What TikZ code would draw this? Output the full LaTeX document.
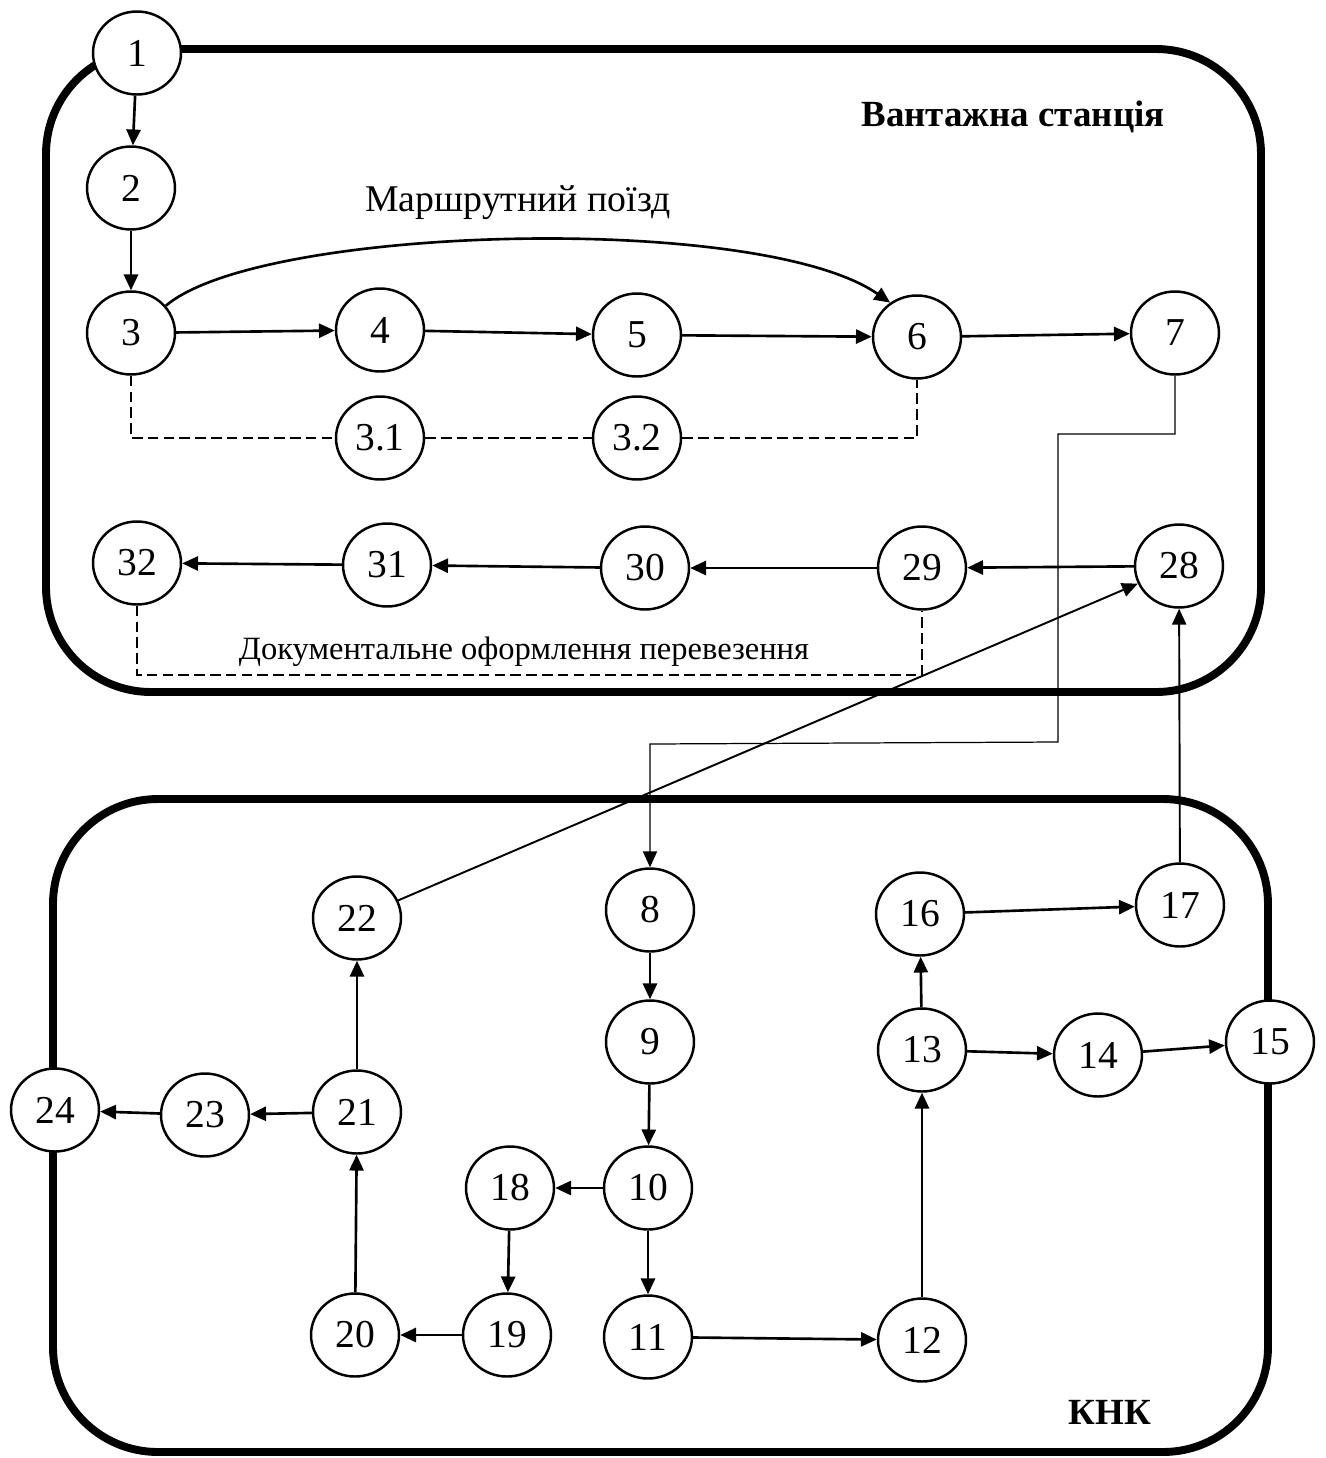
\documentclass[tikz,border=0pt]{standalone}
\usepackage{fontspec}
\setmainfont{Liberation Serif}[Ligatures=TeX]
\usetikzlibrary{arrows.meta,shapes.geometric}
\begin{document}
\begin{tikzpicture}[x=0.02cm,y=-0.02cm,
  st/.style={draw,ellipse,line width=1.4pt,fill=white,minimum width=1.76cm,minimum height=1.66cm,inner sep=0pt,font=\fontsize{22.5}{26}\selectfont},
  arr/.style={line width=1.5pt,-{Triangle[length=9pt,width=8pt]}},
  tarr/.style={line width=0.7pt,-{Triangle[length=9pt,width=8pt]}},
  dsh/.style={line width=0.7pt,dash pattern=on 6pt off 3pt},
  frame/.style={line width=4.5pt,rounded corners=2.1cm}]
\useasboundingbox (0,0) rectangle (1326,1458);
% frames
\draw[frame] (46,49) rectangle (1261,692);
\draw[frame] (53,799) rectangle (1268,1452);
% upper nodes
\node[st] (n1) at (137,53) {1};
\node[st] (n2) at (131,188) {2};
\node[st] (n3) at (131,333) {3};
\node[st] (n4) at (380,330) {4};
\node[st] (n5) at (637,335) {5};
\node[st] (n6) at (917,337) {6};
\node[st] (n7) at (1175,333) {7};
\node[st] (n31) at (380,438) {3.1};
\node[st] (n32) at (637,438) {3.2};
\node[st] (m32) at (137,563) {32};
\node[st] (m31) at (387,565) {31};
\node[st] (m30) at (645,568) {30};
\node[st] (m29) at (922,568) {29};
\node[st] (m28) at (1179,566) {28};
% lower nodes
\node[st] (n8) at (650,910) {8};
\node[st] (n9) at (650,1042) {9};
\node[st] (n10) at (648,1188) {10};
\node[st] (n11) at (648,1337) {11};
\node[st] (n12) at (922,1340) {12};
\node[st] (n13) at (922,1050) {13};
\node[st] (n14) at (1098,1055) {14};
\node[st] (n15) at (1270,1042) {15};
\node[st] (n16) at (920,914) {16};
\node[st] (n17) at (1180,905) {17};
\node[st] (n18) at (510,1188) {18};
\node[st] (n19) at (507,1335) {19};
\node[st] (n20) at (355,1335) {20};
\node[st] (n21) at (357,1112) {21};
\node[st] (n22) at (357,918) {22};
\node[st] (n23) at (205,1115) {23};
\node[st] (n24) at (55,1110) {24};
% labels
\node[font=\fontsize{21}{25}\selectfont\bfseries] (lab1) at (1013,117) {Вантажна станція};
\node[font=\fontsize{21.5}{25}\selectfont] (lab2) at (518,203) {Маршрутний поїзд};
\node[font=\fontsize{18.5}{22}\selectfont] (lab3) at (524,652) {Документальне оформлення перевезення};
\node[font=\fontsize{21}{25}\selectfont\bfseries] (lab4) at (1110,1412) {КНК};
% upper connectors
\draw[arr] (n1) -- (n2);
\draw[arr] (n2) -- (n3);
\draw[arr] (n3) -- (n4);
\draw[arr] (n4) -- (n5);
\draw[arr] (n5) -- (n6);
\draw[arr] (n6) -- (n7);
\draw[arr] (n3.38) .. controls (260,225) and (760,212) .. (n6.128);
\draw[dsh] (n3.south) |- (n31.west);
\draw[dsh] (n31.east) -- (n32.west);
\draw[dsh] (n32.east) -| (n6.south);
\draw[arr] (m28) -- (m29);
\draw[arr] (m29) -- (m30);
\draw[arr] (m30) -- (m31);
\draw[arr] (m31) -- (m32);
\draw[dsh] (m32.south) |- (922,675) -- (m29.south);
% cross connectors
\coordinate (c1) at (1175,434);
\coordinate (c2) at (1058,434);
\coordinate (c3) at (1058,742);
\coordinate (c4) at (650,744);
\draw[tarr] (n7.south) -- (c1) -- (c2) -- (c3) -- (c4) -- (n8.north);
\draw[arr,line width=1.1pt] (n22) -- (m28);
\draw[arr,line width=1.1pt] (n17) -- (m28);
% lower connectors
\draw[arr] (n8) -- (n9);
\draw[arr] (n9) -- (n10);
\draw[arr] (n10) -- (n11);
\draw[arr] (n10) -- (n18);
\draw[arr] (n18) -- (n19);
\draw[arr] (n19) -- (n20);
\draw[arr] (n20) -- (n21);
\draw[arr] (n21) -- (n22);
\draw[arr] (n21) -- (n23);
\draw[arr] (n23) -- (n24);
\draw[arr] (n11) -- (n12);
\draw[arr] (n12) -- (n13);
\draw[arr] (n13) -- (n16);
\draw[arr] (n13) -- (n14);
\draw[arr] (n14) -- (n15);
\draw[arr] (n16) -- (n17);
\end{tikzpicture}
\end{document}
